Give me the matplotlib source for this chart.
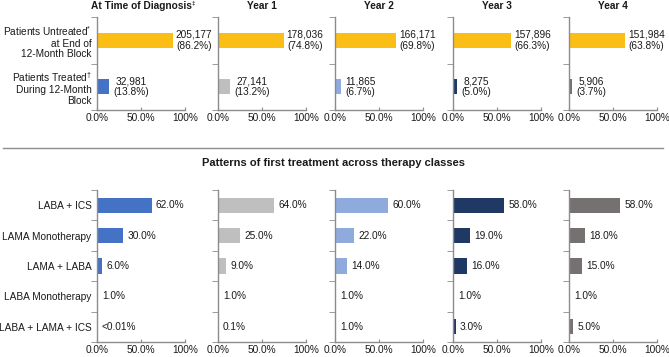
import matplotlib.pyplot as plt
from matplotlib.lines import Line2D
import numpy as np

W, H = 669, 357

panel_titles = ["At Time of Diagnosis", "Year 1", "Year 2", "Year 3", "Year 4"]
title_marks = ["\u2021", "", "", "", ""]
top_labels = ["Patients Untreated$^{*}$\nat End of\n12-Month Block",
              "Patients Treated$^{\u2020}$\nDuring 12-Month\nBlock"]
untreated_n = ["205,177", "178,036", "166,171", "157,896", "151,984"]
untreated_pct = [86.2, 74.8, 69.8, 66.3, 63.8]
treated_n = ["32,981", "27,141", "11,865", "8,275", "5,906"]
treated_pct = [13.8, 13.2, 6.7, 5.0, 3.7]

therapy = ["LABA + ICS", "LAMA Monotherapy", "LAMA + LABA", "LABA Monotherapy", "LABA + LAMA + ICS"]
therapy_pct = [
    [62.0, 30.0, 6.0, 1.0, 0.005],
    [64.0, 25.0, 9.0, 1.0, 0.1],
    [60.0, 22.0, 14.0, 1.0, 1.0],
    [58.0, 19.0, 16.0, 1.0, 3.0],
    [58.0, 18.0, 15.0, 1.0, 5.0],
]
therapy_txt = [
    ["62.0%", "30.0%", "6.0%", "1.0%", "<0.01%"],
    ["64.0%", "25.0%", "9.0%", "1.0%", "0.1%"],
    ["60.0%", "22.0%", "14.0%", "1.0%", "1.0%"],
    ["58.0%", "19.0%", "16.0%", "1.0%", "3.0%"],
    ["58.0%", "18.0%", "15.0%", "1.0%", "5.0%"],
]

gold = "#FBBE14"
colors = ["#4472C4", "#BFBFBF", "#8FAADC", "#1F3864", "#767171"]
txt_c = "#1a1a1a"
axis_c = "#8c8c8c"
fs = 7.3

plt.rcParams['font.family'] = ['Liberation Sans', 'DejaVu Sans']
plt.rcParams['mathtext.fontset'] = 'custom'
plt.rcParams['mathtext.rm'] = 'Liberation Sans'
plt.rcParams['mathtext.it'] = 'Liberation Sans'

fig = plt.figure(figsize=(W / 100, H / 100), dpi=100)
fig.patch.set_facecolor("white")

lefts = [97, 218, 335, 453, 569]
pw = 88


def ax_at(x, ytop, ybot):
    return fig.add_axes([x / W, 1 - ybot / H, pw / W, (ybot - ytop) / H])


def style(ax, n):
    for s in ["top", "right"]:
        ax.spines[s].set_visible(False)
    for s in ["left", "bottom"]:
        ax.spines[s].set_color(axis_c)
        ax.spines[s].set_linewidth(1.0)
    ax.set_xlim(0, 100)
    ax.set_ylim(n - 0.5, -0.5)
    ax.set_xticks([0, 50, 100])
    ax.set_xticklabels(["0.0%", "50.0%", "100%"], fontsize=fs, color=txt_c)
    ax.tick_params(axis="x", length=2, direction="in", color=axis_c, pad=2)
    ax.set_yticks(np.arange(-0.5, n, 1.0), minor=True)
    ax.tick_params(axis="y", which="minor", length=4, color=axis_c, direction="out")
    ax.tick_params(axis="y", which="major", length=0, pad=4)


for i in range(5):
    # top panels
    ax = ax_at(lefts[i], 17, 110)
    style(ax, 2)
    ax.barh([0], [untreated_pct[i]], height=0.32, color=gold)
    ax.barh([1], [treated_pct[i]], height=0.32, color=colors[i])
    ax.text(untreated_pct[i] + 3, 0, untreated_n[i] + "\n(" + f"{untreated_pct[i]:.1f}%)",
            va="center", ha="left", multialignment="center", fontsize=fs, color=txt_c, linespacing=1.1)
    ax.text(treated_pct[i] + 5, 1, treated_n[i] + "\n(" + f"{treated_pct[i]:.1f}%)",
            va="center", ha="left", multialignment="center", fontsize=fs, color=txt_c, linespacing=1.1)
    if i == 0:
        ax.set_yticks([0, 1])
        ax.set_yticklabels(top_labels, fontsize=fs, color=txt_c, ha="right", linespacing=1.1)
    else:
        ax.set_yticks([])
    t = fig.text((lefts[i] + pw / 2) / W, 1 - 9 / H, panel_titles[i], ha="center", va="baseline",
                 fontsize=fs, fontweight="bold", color=txt_c)
    if title_marks[i]:
        ax.annotate(title_marks[i], xy=(1.0, 1.0), xycoords=t, ha="left", va="top",
                    fontsize=4.5, fontweight="bold", color=txt_c, annotation_clip=False)

    # bottom panels
    ax2 = ax_at(lefts[i], 190, 342)
    style(ax2, 5)
    y = np.arange(len(therapy))
    ax2.barh(y, therapy_pct[i], height=0.5, color=colors[i])
    for j in range(len(therapy)):
        ax2.text(therapy_pct[i][j] + 5, j, therapy_txt[i][j], va="center", ha="left",
                 fontsize=fs, color=txt_c)
    if i == 0:
        ax2.set_yticks(y)
        ax2.set_yticklabels(therapy, fontsize=fs, color=txt_c)
    else:
        ax2.set_yticks([])

fig.add_artist(Line2D([3 / W, 663 / W], [1 - 148 / H, 1 - 148 / H], color=axis_c, lw=1.0))
fig.text(334 / W, 1 - 163 / H, "Patterns of first treatment across therapy classes",
         ha="center", va="center", fontsize=8.0, fontweight="bold", color=txt_c)

fig.savefig("out.png", dpi=100)
